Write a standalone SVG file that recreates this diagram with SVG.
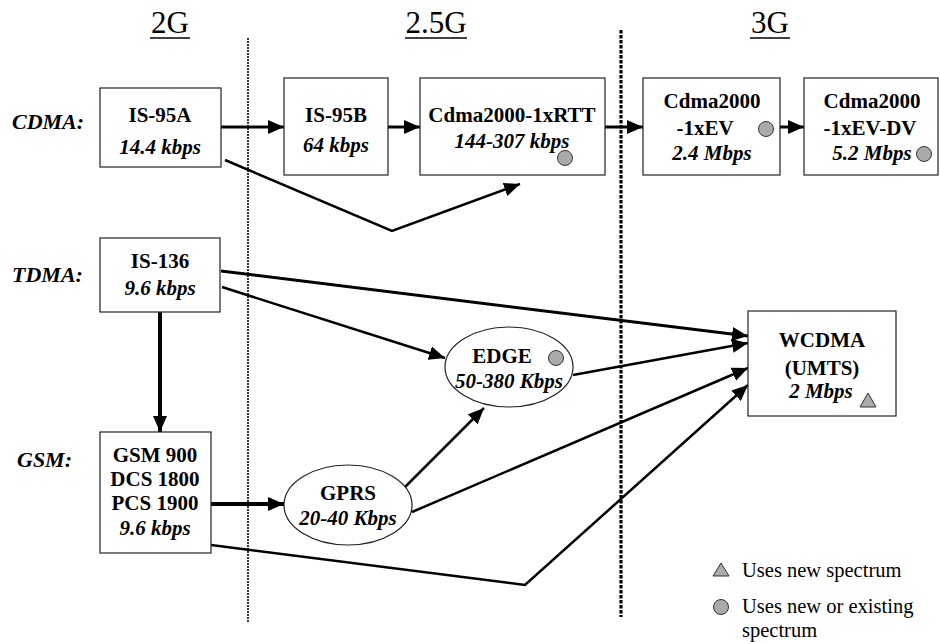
<svg xmlns="http://www.w3.org/2000/svg" width="940" height="642" viewBox="0 0 940 642">
<defs>
<marker id="ah" markerUnits="userSpaceOnUse" markerWidth="16" markerHeight="14" refX="16" refY="7" orient="auto">
<path d="M0,0 L16,7 L0,14 z" fill="#000"/>
</marker>
<style>
text{font-family:"Liberation Serif","Times New Roman",serif;fill:#000}
.hd{font-size:31px;text-anchor:middle}
.lab{font-size:22px;font-weight:bold;font-style:italic}
.b{font-size:21px;font-weight:bold;text-anchor:middle}
.bi{font-size:21px;font-weight:bold;font-style:italic;text-anchor:middle}
.lg{font-size:20.5px}
.box{fill:#fff;stroke:#222;stroke-width:1.2}
.dot{fill:#aaa;stroke:#333;stroke-width:1}
.c{fill:none;stroke:#000;stroke-width:3;stroke-linejoin:miter}
.c2{fill:none;stroke:#000;stroke-width:2.5}
.c4{fill:none;stroke:#000;stroke-width:4}
</style>
</defs>
<rect width="940" height="642" fill="#fff"/>
<g id="headers">
<text class="hd" x="170" y="33">2G</text>
<line x1="150" y1="38" x2="190" y2="38" stroke="#000" stroke-width="1.5"/>
<text class="hd" x="436" y="33">2.5G</text>
<line x1="405" y1="38" x2="467" y2="38" stroke="#000" stroke-width="1.5"/>
<text class="hd" x="770" y="33">3G</text>
<line x1="750" y1="38" x2="790" y2="38" stroke="#000" stroke-width="1.5"/>
</g>
<g id="dividers">
<line x1="248" y1="38" x2="248" y2="622" stroke="#000" stroke-width="1.6" stroke-dasharray="2 1"/>
<line x1="621" y1="30" x2="621" y2="617" stroke="#000" stroke-width="3.2" stroke-dasharray="3.5 1.5"/>
</g>
<g id="row-labels">
<text class="lab" x="12" y="129">CDMA:</text>
<text class="lab" x="12" y="282">TDMA:</text>
<text class="lab" x="17" y="467">GSM:</text>
</g>
<g id="connectors">
<path class="c" d="M221,127 L284,127" marker-end="url(#ah)"/>
<path class="c" d="M388,127 L420,127" marker-end="url(#ah)"/>
<path class="c" d="M605,127 L643,127" marker-end="url(#ah)"/>
<path class="c" d="M780,127 L804,127" marker-end="url(#ah)"/>
<path class="c2" d="M225,160 L392,231 L520,184" marker-end="url(#ah)"/>
<path class="c4" d="M160,312 L160,432" marker-end="url(#ah)"/>
<path class="c" d="M221,271 L748,336" marker-end="url(#ah)"/>
<path class="c2" d="M222,287 L445,358" marker-end="url(#ah)"/>
<path class="c2" d="M573,375 L748,343" marker-end="url(#ah)"/>
<path class="c2" d="M412,512 L748,368" marker-end="url(#ah)"/>
<path class="c2" d="M405,487 L484,408" marker-end="url(#ah)"/>
<path class="c2" d="M211,545 L525,585 L748,385" marker-end="url(#ah)"/>
<path class="c4" d="M211,504 L284,504" marker-end="url(#ah)"/>
</g>
<g id="is95a">
<rect class="box" x="100" y="88" width="121" height="79"/>
<text class="b" x="160" y="122">IS-95A</text>
<text class="bi" x="160" y="154">14.4 kbps</text>
</g>
<g id="is95b">
<rect class="box" x="284" y="78" width="104" height="97"/>
<text class="b" x="336" y="122">IS-95B</text>
<text class="bi" x="336" y="152">64 kbps</text>
</g>
<g id="cdma2000-1xrtt">
<rect class="box" x="420" y="78" width="185" height="97"/>
<text class="b" x="512" y="122">Cdma2000-1xRTT</text>
<text class="bi" x="512" y="148">144-307 kbps</text>
<circle class="dot" cx="565" cy="158" r="7.5"/>
</g>
<g id="cdma2000-1xev">
<rect class="box" x="643" y="78" width="137" height="97"/>
<text class="b" x="712" y="108">Cdma2000</text>
<text class="b" x="705" y="135">-1xEV</text>
<text class="bi" x="712" y="160">2.4 Mbps</text>
<circle class="dot" cx="766" cy="129" r="7.5"/>
</g>
<g id="cdma2000-1xev-dv">
<rect class="box" x="804" y="78" width="134" height="97"/>
<text class="b" x="872" y="108">Cdma2000</text>
<text class="b" x="870" y="135">-1xEV-DV</text>
<text class="bi" x="872" y="160">5.2 Mbps</text>
<circle class="dot" cx="924" cy="154" r="7.5"/>
</g>
<g id="is136">
<rect class="box" x="100" y="238" width="120" height="74"/>
<text class="b" x="160" y="268">IS-136</text>
<text class="bi" x="160" y="295">9.6 kbps</text>
</g>
<g id="gsm">
<rect class="box" x="100" y="432" width="111" height="121"/>
<text class="b" x="155" y="462">GSM 900</text>
<text class="b" x="155" y="486">DCS 1800</text>
<text class="b" x="155" y="510">PCS 1900</text>
<text class="bi" x="155" y="535">9.6 kbps</text>
</g>
<g id="gprs">
<ellipse class="box" cx="348" cy="505" rx="64" ry="40"/>
<text class="b" x="348" y="500">GPRS</text>
<text class="bi" x="348" y="525">20-40 Kbps</text>
</g>
<g id="edge">
<ellipse class="box" cx="509" cy="367" rx="64" ry="40"/>
<text class="b" x="502" y="363">EDGE</text>
<text class="bi" x="509" y="388">50-380 Kbps</text>
<circle class="dot" cx="556" cy="358" r="7.5"/>
</g>
<g id="wcdma">
<rect class="box" x="748" y="311" width="148" height="105"/>
<text class="b" x="822" y="347">WCDMA</text>
<text class="b" x="822" y="375">(UMTS)</text>
<text class="bi" x="821" y="398">2 Mbps</text>
<polygon class="dot" points="860,407 868,393 876,407"/>
</g>
<g id="legend">
<polygon class="dot" points="713,576 721,563 729,576"/>
<text class="lg" x="742" y="577">Uses new spectrum</text>
<circle class="dot" cx="721" cy="607" r="7.5"/>
<text class="lg" x="742" y="613">Uses new or existing</text>
<text class="lg" x="742" y="637">spectrum</text>
</g>
</svg>
